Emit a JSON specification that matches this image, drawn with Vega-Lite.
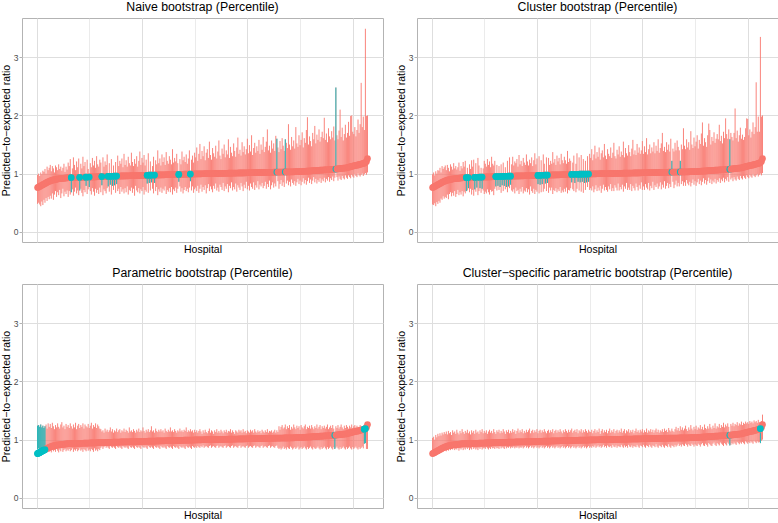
{
"$schema":"https://vega.github.io/schema/vega-lite/v6.json",
"padding":0,
"background":"white",
"columns":2,
"spacing":{"row":11,"column":11},
"datasets":{"d":[
{"h":1,"e":0.76,"a":0.48,"b":0.98,"c":0.47,"d":0.99,"f":0.84,"g":1.24,"i":0.74,"j":1.03,"tp":1},
{"h":2,"e":0.77,"a":0.50,"b":1.00,"c":0.46,"d":1.02,"f":0.85,"g":1.25,"i":0.75,"j":1.05,"tp":1},
{"h":3,"e":0.78,"a":0.47,"b":0.96,"c":0.49,"d":0.97,"f":0.84,"g":1.22,"i":0.76,"j":1.00,"tp":1},
{"h":4,"e":0.79,"a":0.44,"b":1.02,"c":0.44,"d":1.04,"f":0.85,"g":1.26,"i":0.77,"j":1.08,"tp":1},
{"h":5,"e":0.80,"a":0.52,"b":0.99,"c":0.51,"d":1.00,"f":0.84,"g":1.21,"i":0.78,"j":1.04,"tp":1},
{"h":6,"e":0.81,"a":0.46,"b":1.05,"c":0.48,"d":1.06,"f":0.85,"g":1.24,"i":0.78,"j":1.10,"tp":1},
{"h":7,"e":0.82,"a":0.55,"b":1.03,"c":0.53,"d":1.05,"f":0.84,"g":1.20,"i":0.79,"j":1.06,"tp":1},
{"h":8,"e":0.83,"a":0.50,"b":1.08,"c":0.50,"d":1.10,"f":0.85,"g":1.23,"i":0.79,"j":1.11,"tp":1},
{"h":9,"e":0.84,"a":0.58,"b":1.00,"c":0.57,"d":1.02,"f":0.82,"g":1.26,"i":0.80,"j":1.07},
{"h":10,"e":0.85,"a":0.53,"b":1.12,"c":0.55,"d":1.13,"f":0.80,"g":1.19,"i":0.80,"j":1.12},
{"h":11,"e":0.86,"a":0.60,"b":1.06,"c":0.61,"d":1.08,"f":0.83,"g":1.28,"i":0.81,"j":1.09},
{"h":12,"e":0.868,"a":0.56,"b":1.10,"c":0.57,"d":1.11,"f":0.79,"g":1.22,"i":0.81,"j":1.13},
{"h":13,"e":0.875,"a":0.62,"b":1.15,"c":0.60,"d":1.14,"f":0.81,"g":1.27,"i":0.82,"j":1.10},
{"h":14,"e":0.881,"a":0.57,"b":1.04,"c":0.58,"d":1.06,"f":0.78,"g":1.20,"i":0.80,"j":1.14},
{"h":15,"e":0.887,"a":0.66,"b":1.13,"c":0.64,"d":1.15,"f":0.83,"g":1.29,"i":0.83,"j":1.09},
{"h":16,"e":0.892,"a":0.55,"b":1.09,"c":0.56,"d":1.10,"f":0.80,"g":1.23,"i":0.81,"j":1.15},
{"h":17,"e":0.897,"a":0.64,"b":1.02,"c":0.65,"d":1.04,"f":0.82,"g":1.18,"i":0.84,"j":1.11},
{"h":18,"e":0.901,"a":0.70,"b":1.14,"c":0.68,"d":1.16,"f":0.79,"g":1.25,"i":0.82,"j":1.13},
{"h":19,"e":0.905,"a":0.60,"b":1.11,"c":0.61,"d":1.12,"f":0.84,"g":1.21,"i":0.85,"j":1.08},
{"h":20,"e":0.909,"a":0.68,"b":1.06,"c":0.67,"d":1.07,"f":0.81,"g":1.28,"i":0.83,"j":1.16},
{"h":21,"e":0.912,"a":0.63,"b":1.16,"c":0.62,"d":1.18,"f":0.78,"g":1.22,"i":0.86,"j":1.12},
{"h":22,"e":0.914,"a":0.72,"b":1.08,"c":0.70,"d":1.09,"f":0.83,"g":1.19,"i":0.82,"j":1.14},
{"h":23,"e":0.916,"a":0.58,"b":1.12,"c":0.60,"d":1.13,"f":0.80,"g":1.26,"i":0.84,"j":1.10},
{"h":24,"e":0.918,"a":0.66,"b":1.05,"c":0.65,"d":1.07,"f":0.85,"g":1.30,"i":0.83,"j":1.17},
{"h":25,"e":0.920,"a":0.74,"b":1.10,"c":0.72,"d":1.11,"f":0.79,"g":1.21,"i":0.86,"j":1.12},
{"h":26,"e":0.922,"a":0.61,"b":1.17,"c":0.63,"d":1.19,"f":0.82,"g":1.24,"i":0.81,"j":1.09},
{"h":27,"e":0.924,"a":0.69,"b":1.03,"c":0.68,"d":1.05,"f":0.84,"g":1.18,"i":0.85,"j":1.15},
{"h":28,"e":0.926,"a":0.65,"b":1.12,"c":0.64,"d":1.13,"f":0.80,"g":1.27,"i":0.83,"j":1.11},
{"h":29,"e":0.928,"a":0.71,"b":1.07,"c":0.70,"d":1.09,"f":0.83,"g":1.22,"i":0.86,"j":1.18},
{"h":30,"e":0.930,"a":0.60,"b":1.19,"c":0.61,"d":1.20,"f":0.81,"g":1.25,"i":0.82,"j":1.13},
{"h":31,"e":0.931,"a":0.70,"b":1.13,"c":0.69,"d":1.12,"f":0.84,"g":1.20,"i":0.85,"j":1.10},
{"h":32,"e":0.931,"a":0.64,"b":1.25,"c":0.66,"d":1.22,"f":0.80,"g":1.28,"i":0.83,"j":1.15},
{"h":33,"e":0.932,"a":0.68,"b":0.92,"c":0.70,"d":0.92,"f":0.82,"g":1.23,"i":0.86,"j":1.12,"tn":1,"tc":1},
{"h":34,"e":0.932,"a":0.73,"b":1.09,"c":0.71,"d":1.10,"f":0.85,"g":1.19,"i":0.84,"j":1.17},
{"h":35,"e":0.933,"a":0.62,"b":1.28,"c":0.75,"d":0.92,"f":0.79,"g":1.26,"i":0.86,"j":1.11,"tc":1},
{"h":36,"e":0.934,"a":0.69,"b":1.15,"c":0.68,"d":1.16,"f":0.83,"g":1.21,"i":0.82,"j":1.14},
{"h":37,"e":0.934,"a":0.76,"b":1.06,"c":0.74,"d":1.08,"f":0.81,"g":1.29,"i":0.85,"j":1.09},
{"h":38,"e":0.935,"a":0.66,"b":1.21,"c":0.64,"d":1.23,"f":0.84,"g":1.18,"i":0.83,"j":1.16},
{"h":39,"e":0.935,"a":0.71,"b":1.11,"c":0.72,"d":1.12,"f":0.80,"g":1.24,"i":0.87,"j":1.12},
{"h":40,"e":0.936,"a":0.63,"b":1.26,"c":0.62,"d":1.24,"f":0.82,"g":1.27,"i":0.84,"j":1.15},
{"h":41,"e":0.937,"a":0.71,"b":0.93,"c":0.73,"d":0.92,"f":0.85,"g":1.20,"i":0.86,"j":1.10,"tn":1,"tc":1},
{"h":42,"e":0.937,"a":0.74,"b":1.17,"c":0.69,"d":1.18,"f":0.81,"g":1.25,"i":0.83,"j":1.17},
{"h":43,"e":0.938,"a":0.67,"b":1.09,"c":0.76,"d":0.93,"f":0.83,"g":1.22,"i":0.85,"j":1.12,"tc":1},
{"h":44,"e":0.938,"a":0.61,"b":1.29,"c":0.63,"d":1.27,"f":0.79,"g":1.28,"i":0.82,"j":1.14},
{"h":45,"e":0.939,"a":0.72,"b":1.13,"c":0.70,"d":1.14,"f":0.84,"g":1.19,"i":0.86,"j":1.10},
{"h":46,"e":0.940,"a":0.68,"b":1.20,"c":0.75,"d":0.93,"f":0.82,"g":1.26,"i":0.84,"j":1.16,"tc":1},
{"h":47,"e":0.940,"a":0.79,"b":0.93,"c":0.67,"d":1.10,"f":0.80,"g":1.23,"i":0.87,"j":1.13,"tn":1},
{"h":48,"e":0.941,"a":0.65,"b":1.24,"c":0.74,"d":0.93,"f":0.85,"g":1.21,"i":0.83,"j":1.18,"tc":1},
{"h":49,"e":0.941,"a":0.73,"b":1.08,"c":0.71,"d":1.09,"f":0.81,"g":1.27,"i":0.85,"j":1.11},
{"h":50,"e":0.942,"a":0.77,"b":0.93,"c":0.65,"d":1.22,"f":0.83,"g":1.20,"i":0.86,"j":1.15,"tn":1},
{"h":51,"e":0.943,"a":0.70,"b":1.18,"c":0.69,"d":1.17,"f":0.80,"g":1.24,"i":0.84,"j":1.12},
{"h":52,"e":0.943,"a":0.64,"b":1.11,"c":0.66,"d":1.12,"f":0.84,"g":1.29,"i":0.87,"j":1.16},
{"h":53,"e":0.944,"a":0.75,"b":1.27,"c":0.73,"d":1.25,"f":0.82,"g":1.19,"i":0.85,"j":1.10},
{"h":54,"e":0.944,"a":0.69,"b":1.14,"c":0.68,"d":1.15,"f":0.79,"g":1.25,"i":0.83,"j":1.14},
{"h":55,"e":0.945,"a":0.62,"b":1.22,"c":0.64,"d":1.21,"f":0.85,"g":1.22,"i":0.86,"j":1.17},
{"h":56,"e":0.946,"a":0.74,"b":1.10,"c":0.72,"d":1.11,"f":0.81,"g":1.28,"i":0.84,"j":1.12},
{"h":57,"e":0.946,"a":0.67,"b":1.30,"c":0.69,"d":1.29,"f":0.83,"g":1.20,"i":0.87,"j":1.15},
{"h":58,"e":0.947,"a":0.72,"b":1.16,"c":0.70,"d":1.17,"f":0.80,"g":1.26,"i":0.85,"j":1.11},
{"h":59,"e":0.947,"a":0.65,"b":1.12,"c":0.63,"d":1.14,"f":0.84,"g":1.23,"i":0.86,"j":1.18},
{"h":60,"e":0.948,"a":0.76,"b":1.24,"c":0.74,"d":1.22,"f":0.82,"g":1.19,"i":0.84,"j":1.13},
{"h":61,"e":0.949,"a":0.68,"b":1.19,"c":0.78,"d":0.94,"f":0.86,"g":1.18,"i":0.87,"j":1.10,"tc":1},
{"h":62,"e":0.949,"a":0.80,"b":0.94,"c":0.71,"d":1.15,"f":0.88,"g":1.14,"i":0.85,"j":1.16,"tn":1},
{"h":63,"e":0.950,"a":0.63,"b":1.28,"c":0.79,"d":0.94,"f":0.84,"g":1.16,"i":0.86,"j":1.13,"tc":1},
{"h":64,"e":0.950,"a":0.73,"b":1.12,"c":0.72,"d":1.13,"f":0.87,"g":1.12,"i":0.84,"j":1.17},
{"h":65,"e":0.951,"a":0.70,"b":1.21,"c":0.77,"d":0.94,"f":0.89,"g":1.19,"i":0.88,"j":1.11,"tc":1},
{"h":66,"e":0.952,"a":0.66,"b":1.15,"c":0.67,"d":1.16,"f":0.86,"g":1.14,"i":0.85,"j":1.15},
{"h":67,"e":0.952,"a":0.75,"b":1.33,"c":0.80,"d":0.94,"f":0.88,"g":1.17,"i":0.87,"j":1.12,"tc":1},
{"h":68,"e":0.953,"a":0.78,"b":0.94,"c":0.70,"d":1.19,"f":0.86,"g":1.13,"i":0.86,"j":1.18,"tn":1},
{"h":69,"e":0.953,"a":0.69,"b":1.18,"c":0.79,"d":0.94,"f":0.84,"g":1.16,"i":0.84,"j":1.14,"tc":1},
{"h":70,"e":0.954,"a":0.81,"b":0.94,"c":0.73,"d":1.11,"f":0.89,"g":1.21,"i":0.88,"j":1.10,"tn":1},
{"h":71,"e":0.955,"a":0.64,"b":1.25,"c":0.77,"d":0.94,"f":0.87,"g":1.14,"i":0.85,"j":1.16,"tc":1},
{"h":72,"e":0.955,"a":0.79,"b":0.94,"c":0.68,"d":1.22,"f":0.86,"g":1.18,"i":0.87,"j":1.13,"tn":1},
{"h":73,"e":0.956,"a":0.72,"b":1.14,"c":0.78,"d":0.95,"f":0.88,"g":1.12,"i":0.86,"j":1.17,"tc":1},
{"h":74,"e":0.956,"a":0.80,"b":0.94,"c":0.75,"d":1.28,"f":0.86,"g":1.16,"i":0.88,"j":1.11,"tn":1},
{"h":75,"e":0.957,"a":0.67,"b":1.20,"c":0.81,"d":0.95,"f":0.84,"g":1.14,"i":0.85,"j":1.15,"tc":1},
{"h":76,"e":0.958,"a":0.82,"b":0.95,"c":0.71,"d":1.16,"f":0.89,"g":1.19,"i":0.87,"j":1.12,"tn":1},
{"h":77,"e":0.958,"a":0.70,"b":1.31,"c":0.69,"d":1.29,"f":0.87,"g":1.13,"i":0.86,"j":1.18},
{"h":78,"e":0.959,"a":0.74,"b":1.13,"c":0.73,"d":1.14,"f":0.86,"g":1.16,"i":0.88,"j":1.13},
{"h":79,"e":0.959,"a":0.65,"b":1.22,"c":0.66,"d":1.21,"f":0.88,"g":1.18,"i":0.85,"j":1.16},
{"h":80,"e":0.960,"a":0.77,"b":1.17,"c":0.76,"d":1.18,"f":0.86,"g":1.12,"i":0.87,"j":1.10},
{"h":81,"e":0.960,"a":0.69,"b":1.26,"c":0.70,"d":1.25,"f":0.84,"g":1.16,"i":0.86,"j":1.15},
{"h":82,"e":0.961,"a":0.73,"b":1.11,"c":0.72,"d":1.12,"f":0.89,"g":1.14,"i":0.88,"j":1.19},
{"h":83,"e":0.961,"a":0.66,"b":1.34,"c":0.65,"d":1.32,"f":0.87,"g":1.19,"i":0.85,"j":1.12},
{"h":84,"e":0.962,"a":0.75,"b":1.15,"c":0.74,"d":1.16,"f":0.86,"g":1.13,"i":0.87,"j":1.16},
{"h":85,"e":0.962,"a":0.68,"b":1.23,"c":0.69,"d":1.22,"f":0.88,"g":1.17,"i":0.86,"j":1.13},
{"h":86,"e":0.963,"a":0.78,"b":1.12,"c":0.77,"d":1.13,"f":0.86,"g":1.15,"i":0.88,"j":1.18},
{"h":87,"e":0.963,"a":0.64,"b":1.29,"c":0.66,"d":1.27,"f":0.84,"g":1.12,"i":0.85,"j":1.11},
{"h":88,"e":0.964,"a":0.72,"b":1.18,"c":0.71,"d":1.19,"f":0.89,"g":1.21,"i":0.87,"j":1.15},
{"h":89,"e":0.964,"a":0.70,"b":1.14,"c":0.69,"d":1.15,"f":0.87,"g":1.14,"i":0.89,"j":1.12},
{"h":90,"e":0.965,"a":0.76,"b":1.36,"c":0.75,"d":1.33,"f":0.86,"g":1.16,"i":0.86,"j":1.17},
{"h":91,"e":0.965,"a":0.67,"b":1.20,"c":0.68,"d":1.21,"f":0.88,"g":1.13,"i":0.88,"j":1.13},
{"h":92,"e":0.966,"a":0.74,"b":1.13,"c":0.73,"d":1.14,"f":0.86,"g":1.18,"i":0.85,"j":1.16},
{"h":93,"e":0.966,"a":0.62,"b":1.25,"c":0.64,"d":1.24,"f":0.84,"g":1.15,"i":0.87,"j":1.19},
{"h":94,"e":0.967,"a":0.79,"b":1.17,"c":0.78,"d":1.18,"f":0.89,"g":1.12,"i":0.89,"j":1.11},
{"h":95,"e":0.967,"a":0.71,"b":1.30,"c":0.70,"d":1.28,"f":0.87,"g":1.17,"i":0.86,"j":1.15},
{"h":96,"e":0.968,"a":0.68,"b":1.12,"c":0.67,"d":1.13,"f":0.86,"g":1.14,"i":0.88,"j":1.17},
{"h":97,"e":0.968,"a":0.75,"b":1.22,"c":0.74,"d":1.23,"f":0.88,"g":1.19,"i":0.85,"j":1.12},
{"h":98,"e":0.969,"a":0.66,"b":1.38,"c":0.65,"d":1.35,"f":0.86,"g":1.13,"i":0.87,"j":1.16},
{"h":99,"e":0.969,"a":0.73,"b":1.15,"c":0.72,"d":1.16,"f":0.84,"g":1.16,"i":0.89,"j":1.13},
{"h":100,"e":0.970,"a":0.70,"b":1.27,"c":0.69,"d":1.26,"f":0.89,"g":1.14,"i":0.86,"j":1.18},
{"h":101,"e":0.970,"a":0.77,"b":1.19,"c":0.82,"d":0.96,"f":0.87,"g":1.21,"i":0.88,"j":1.11,"tc":1},
{"h":102,"e":0.971,"a":0.64,"b":1.32,"c":0.66,"d":1.30,"f":0.86,"g":1.15,"i":0.85,"j":1.15},
{"h":103,"e":0.971,"a":0.72,"b":1.14,"c":0.81,"d":0.96,"f":0.88,"g":1.12,"i":0.87,"j":1.17,"tc":1},
{"h":104,"e":0.972,"a":0.69,"b":1.24,"c":0.68,"d":1.23,"f":0.86,"g":1.17,"i":0.89,"j":1.12},
{"h":105,"e":0.972,"a":0.83,"b":0.96,"c":0.82,"d":0.96,"f":0.84,"g":1.14,"i":0.86,"j":1.16,"tn":1,"tc":1},
{"h":106,"e":0.973,"a":0.67,"b":1.35,"c":0.69,"d":1.33,"f":0.89,"g":1.18,"i":0.88,"j":1.13},
{"h":107,"e":0.973,"a":0.84,"b":0.96,"c":0.74,"d":1.17,"f":0.87,"g":1.13,"i":0.85,"j":1.18,"tn":1},
{"h":108,"e":0.974,"a":0.71,"b":1.21,"c":0.83,"d":0.96,"f":0.86,"g":1.16,"i":0.87,"j":1.14,"tc":1},
{"h":109,"e":0.974,"a":0.85,"b":0.96,"c":0.70,"d":1.28,"f":0.88,"g":1.23,"i":0.89,"j":1.11,"tn":1},
{"h":110,"e":0.975,"a":0.74,"b":1.13,"c":0.84,"d":0.96,"f":0.86,"g":1.14,"i":0.86,"j":1.15,"tc":1},
{"h":111,"e":0.975,"a":0.66,"b":1.29,"c":0.67,"d":1.27,"f":0.84,"g":1.16,"i":0.88,"j":1.17},
{"h":112,"e":0.976,"a":0.84,"b":0.96,"c":0.76,"d":1.15,"f":0.89,"g":1.12,"i":0.85,"j":1.12,"tn":1},
{"h":113,"e":0.976,"a":0.70,"b":1.23,"c":0.71,"d":1.22,"f":0.87,"g":1.19,"i":0.87,"j":1.16},
{"h":114,"e":0.977,"a":0.77,"b":1.16,"c":0.76,"d":1.17,"f":0.86,"g":1.15,"i":0.89,"j":1.13},
{"h":115,"e":0.977,"a":0.63,"b":1.40,"c":0.65,"d":1.37,"f":0.88,"g":1.13,"i":0.86,"j":1.18},
{"h":116,"e":0.978,"a":0.73,"b":1.18,"c":0.72,"d":1.19,"f":0.86,"g":1.17,"i":0.88,"j":1.11},
{"h":117,"e":0.978,"a":0.69,"b":1.26,"c":0.70,"d":1.25,"f":0.84,"g":1.14,"i":0.85,"j":1.15},
{"h":118,"e":0.979,"a":0.76,"b":1.14,"c":0.75,"d":1.15,"f":0.89,"g":1.18,"i":0.87,"j":1.17},
{"h":119,"e":0.979,"a":0.67,"b":1.33,"c":0.68,"d":1.31,"f":0.87,"g":1.14,"i":0.89,"j":1.12},
{"h":120,"e":0.980,"a":0.74,"b":1.20,"c":0.73,"d":1.21,"f":0.86,"g":1.16,"i":0.86,"j":1.16},
{"h":121,"e":0.980,"a":0.71,"b":1.28,"c":0.70,"d":1.27,"f":0.88,"g":1.12,"i":0.88,"j":1.13},
{"h":122,"e":0.981,"a":0.78,"b":1.15,"c":0.77,"d":1.16,"f":0.86,"g":1.19,"i":0.85,"j":1.18},
{"h":123,"e":0.981,"a":0.65,"b":1.37,"c":0.67,"d":1.34,"f":0.84,"g":1.15,"i":0.87,"j":1.14},
{"h":124,"e":0.982,"a":0.72,"b":1.22,"c":0.71,"d":1.23,"f":0.89,"g":1.13,"i":0.89,"j":1.11},
{"h":125,"e":0.982,"a":0.69,"b":1.17,"c":0.68,"d":1.18,"f":0.87,"g":1.17,"i":0.86,"j":1.16},
{"h":126,"e":0.983,"a":0.75,"b":1.30,"c":0.74,"d":1.29,"f":0.86,"g":1.14,"i":0.88,"j":1.13},
{"h":127,"e":0.983,"a":0.68,"b":1.24,"c":0.69,"d":1.23,"f":0.88,"g":1.21,"i":0.85,"j":1.18},
{"h":128,"e":0.984,"a":0.77,"b":1.16,"c":0.76,"d":1.17,"f":0.86,"g":1.14,"i":0.87,"j":1.15},
{"h":129,"e":0.984,"a":0.64,"b":1.42,"c":0.66,"d":1.39,"f":0.84,"g":1.16,"i":0.89,"j":1.12},
{"h":130,"e":0.985,"a":0.73,"b":1.19,"c":0.72,"d":1.20,"f":0.89,"g":1.13,"i":0.86,"j":1.17},
{"h":131,"e":0.985,"a":0.70,"b":1.27,"c":0.71,"d":1.26,"f":0.87,"g":1.18,"i":0.88,"j":1.13},
{"h":132,"e":0.986,"a":0.76,"b":1.21,"c":0.75,"d":1.22,"f":0.86,"g":1.15,"i":0.85,"j":1.16},
{"h":133,"e":0.986,"a":0.67,"b":1.34,"c":0.85,"d":0.97,"f":0.88,"g":1.12,"i":0.87,"j":1.19,"tc":1},
{"h":134,"e":0.987,"a":0.74,"b":1.18,"c":0.73,"d":1.19,"f":0.86,"g":1.16,"i":0.89,"j":1.12},
{"h":135,"e":0.987,"a":0.86,"b":0.97,"c":0.70,"d":1.31,"f":0.84,"g":1.14,"i":0.86,"j":1.15,"tn":1},
{"h":136,"e":0.988,"a":0.78,"b":1.25,"c":0.84,"d":0.97,"f":0.89,"g":1.19,"i":0.88,"j":1.17,"tc":1},
{"h":137,"e":0.988,"a":0.69,"b":1.16,"c":0.68,"d":1.17,"f":0.87,"g":1.14,"i":0.85,"j":1.13},
{"h":138,"e":0.989,"a":0.75,"b":1.38,"c":0.74,"d":1.35,"f":0.86,"g":1.16,"i":0.87,"j":1.18},
{"h":139,"e":0.989,"a":0.66,"b":1.23,"c":0.86,"d":0.97,"f":0.88,"g":1.13,"i":0.89,"j":1.11,"tc":1},
{"h":140,"e":0.990,"a":0.72,"b":1.29,"c":0.71,"d":1.28,"f":0.86,"g":1.17,"i":0.86,"j":1.16},
{"h":141,"e":0.990,"a":0.77,"b":1.20,"c":0.85,"d":0.97,"f":0.84,"g":1.15,"i":0.88,"j":1.14,"tc":1},
{"h":142,"e":0.991,"a":0.70,"b":1.33,"c":0.69,"d":1.32,"f":0.89,"g":1.21,"i":0.85,"j":1.18},
{"h":143,"e":0.991,"a":0.74,"b":1.17,"c":0.86,"d":0.98,"f":0.87,"g":1.13,"i":0.87,"j":1.12,"tc":1},
{"h":144,"e":0.992,"a":0.68,"b":1.26,"c":0.67,"d":1.25,"f":0.86,"g":1.16,"i":0.89,"j":1.16},
{"h":145,"e":0.992,"a":0.76,"b":1.40,"c":0.84,"d":0.98,"f":0.88,"g":1.14,"i":0.86,"j":1.13,"tc":1},
{"h":146,"e":0.993,"a":0.87,"b":0.98,"c":0.72,"d":1.22,"f":0.86,"g":1.18,"i":0.88,"j":1.18,"tn":1},
{"h":147,"e":0.993,"a":0.71,"b":1.24,"c":0.85,"d":0.98,"f":0.84,"g":1.14,"i":0.85,"j":1.15,"tc":1},
{"h":148,"e":0.994,"a":0.78,"b":1.31,"c":0.77,"d":1.30,"f":0.89,"g":1.16,"i":0.87,"j":1.12},
{"h":149,"e":0.994,"a":0.67,"b":1.19,"c":0.86,"d":0.98,"f":0.87,"g":1.12,"i":0.89,"j":1.17,"tc":1},
{"h":150,"e":0.995,"a":0.73,"b":1.36,"c":0.72,"d":1.34,"f":0.86,"g":1.17,"i":0.86,"j":1.14},
{"h":151,"e":0.995,"a":0.76,"b":1.28,"c":0.75,"d":1.27,"f":0.88,"g":1.13,"i":0.88,"j":1.13},
{"h":152,"e":0.996,"a":0.70,"b":1.45,"c":0.71,"d":1.42,"f":0.86,"g":1.16,"i":0.86,"j":1.17},
{"h":153,"e":0.996,"a":0.79,"b":1.22,"c":0.78,"d":1.23,"f":0.89,"g":1.12,"i":0.89,"j":1.11},
{"h":154,"e":0.996,"a":0.67,"b":1.34,"c":0.68,"d":1.33,"f":0.87,"g":1.15,"i":0.87,"j":1.15},
{"h":155,"e":0.997,"a":0.74,"b":1.51,"c":0.73,"d":1.48,"f":0.86,"g":1.18,"i":0.90,"j":1.18},
{"h":156,"e":0.997,"a":0.81,"b":1.25,"c":0.80,"d":1.26,"f":0.89,"g":1.14,"i":0.86,"j":1.12},
{"h":157,"e":0.998,"a":0.69,"b":1.39,"c":0.70,"d":1.37,"f":0.87,"g":1.10,"i":0.88,"j":1.16},
{"h":158,"e":0.998,"a":0.77,"b":1.30,"c":0.76,"d":1.29,"f":0.90,"g":1.16,"i":0.90,"j":1.13},
{"h":159,"e":0.998,"a":0.72,"b":1.47,"c":0.71,"d":1.45,"f":0.86,"g":1.12,"i":0.87,"j":1.19},
{"h":160,"e":0.999,"a":0.80,"b":1.23,"c":0.79,"d":1.24,"f":0.88,"g":1.17,"i":0.89,"j":1.10},
{"h":161,"e":0.999,"a":0.66,"b":1.36,"c":0.67,"d":1.35,"f":0.89,"g":1.13,"i":0.86,"j":1.15},
{"h":162,"e":1.000,"a":0.75,"b":1.42,"c":0.74,"d":1.40,"f":0.87,"g":1.11,"i":0.88,"j":1.18},
{"h":163,"e":1.000,"a":0.82,"b":1.27,"c":0.81,"d":1.28,"f":0.86,"g":1.15,"i":0.91,"j":1.12},
{"h":164,"e":1.000,"a":0.70,"b":1.55,"c":0.71,"d":1.51,"f":0.89,"g":1.19,"i":0.87,"j":1.16},
{"h":165,"e":1.001,"a":0.78,"b":1.32,"c":0.77,"d":1.31,"f":0.90,"g":1.12,"i":0.89,"j":1.13},
{"h":166,"e":1.001,"a":0.73,"b":1.24,"c":0.72,"d":1.25,"f":0.86,"g":1.16,"i":0.86,"j":1.17},
{"h":167,"e":1.002,"a":0.68,"b":1.44,"c":0.69,"d":1.42,"f":0.88,"g":1.14,"i":0.90,"j":1.11},
{"h":168,"e":1.002,"a":0.79,"b":1.35,"c":0.78,"d":1.34,"f":0.89,"g":1.10,"i":0.88,"j":1.15},
{"h":169,"e":1.002,"a":0.74,"b":1.29,"c":0.73,"d":1.30,"f":0.87,"g":1.16,"i":0.87,"j":1.19},
{"h":170,"e":1.003,"a":0.83,"b":1.48,"c":0.82,"d":1.45,"f":0.86,"g":1.13,"i":0.89,"j":1.12},
{"h":171,"e":1.003,"a":0.71,"b":1.26,"c":0.70,"d":1.27,"f":0.89,"g":1.18,"i":0.86,"j":1.16},
{"h":172,"e":1.004,"a":0.76,"b":1.38,"c":0.75,"d":1.36,"f":0.90,"g":1.12,"i":0.91,"j":1.13},
{"h":173,"e":1.004,"a":0.69,"b":1.57,"c":0.70,"d":1.53,"f":0.86,"g":1.15,"i":0.88,"j":1.18},
{"h":174,"e":1.004,"a":0.81,"b":1.31,"c":0.80,"d":1.30,"f":0.88,"g":1.12,"i":0.87,"j":1.11},
{"h":175,"e":1.005,"a":0.77,"b":1.25,"c":0.76,"d":1.26,"f":0.89,"g":1.17,"i":0.90,"j":1.15},
{"h":176,"e":1.005,"a":0.72,"b":1.43,"c":0.71,"d":1.41,"f":0.87,"g":1.14,"i":0.86,"j":1.17},
{"h":177,"e":1.006,"a":0.84,"b":1.34,"c":0.83,"d":1.33,"f":0.86,"g":1.11,"i":0.89,"j":1.12},
{"h":178,"e":1.006,"a":0.70,"b":1.50,"c":0.71,"d":1.47,"f":0.89,"g":1.16,"i":0.88,"j":1.16},
{"h":179,"e":1.006,"a":0.78,"b":1.28,"c":0.77,"d":1.29,"f":0.90,"g":1.13,"i":0.87,"j":1.13},
{"h":180,"e":1.007,"a":0.74,"b":1.40,"c":0.73,"d":1.38,"f":0.86,"g":1.17,"i":0.91,"j":1.19},
{"h":181,"e":1.007,"a":0.82,"b":1.33,"c":0.81,"d":1.32,"f":0.88,"g":1.12,"i":0.88,"j":1.12},
{"h":182,"e":1.008,"a":0.68,"b":1.59,"c":0.69,"d":1.55,"f":0.89,"g":1.15,"i":0.86,"j":1.15},
{"h":183,"e":1.008,"a":0.79,"b":1.27,"c":0.78,"d":1.28,"f":0.87,"g":1.14,"i":0.90,"j":1.18},
{"h":184,"e":1.008,"a":0.75,"b":1.46,"c":0.74,"d":1.44,"f":0.86,"g":1.18,"i":0.87,"j":1.11},
{"h":185,"e":1.009,"a":0.85,"b":1.36,"c":0.84,"d":1.35,"f":0.89,"g":1.12,"i":0.89,"j":1.16},
{"h":186,"e":1.009,"a":0.71,"b":1.30,"c":0.72,"d":1.31,"f":0.90,"g":1.16,"i":0.86,"j":1.14},
{"h":187,"e":1.010,"a":0.77,"b":1.52,"c":0.76,"d":1.49,"f":0.86,"g":1.13,"i":0.91,"j":1.18},
{"h":188,"e":1.010,"a":0.73,"b":1.39,"c":0.72,"d":1.37,"f":0.88,"g":1.10,"i":0.88,"j":1.12},
{"h":189,"e":1.010,"a":0.83,"b":1.29,"c":0.82,"d":1.30,"f":0.89,"g":1.16,"i":0.87,"j":1.16},
{"h":190,"e":1.011,"a":0.69,"b":1.45,"c":0.70,"d":1.43,"f":0.87,"g":1.14,"i":0.90,"j":1.13},
{"h":191,"e":1.011,"a":0.80,"b":1.62,"c":0.79,"d":1.58,"f":0.86,"g":1.12,"i":0.86,"j":1.17},
{"h":192,"e":1.012,"a":0.76,"b":1.34,"c":0.75,"d":1.33,"f":0.89,"g":1.17,"i":0.89,"j":1.11},
{"h":193,"e":1.012,"a":0.72,"b":1.41,"c":0.71,"d":1.40,"f":0.90,"g":1.14,"i":0.88,"j":1.15},
{"h":194,"e":1.012,"a":0.84,"b":1.31,"c":0.83,"d":1.32,"f":0.86,"g":1.16,"i":0.87,"j":1.19},
{"h":195,"e":1.013,"a":0.78,"b":1.54,"c":0.77,"d":1.51,"f":0.88,"g":1.12,"i":0.91,"j":1.13},
{"h":196,"e":1.013,"a":0.70,"b":1.37,"c":0.71,"d":1.36,"f":0.89,"g":1.18,"i":0.88,"j":1.16},
{"h":197,"e":1.014,"a":0.81,"b":1.47,"c":0.80,"d":1.45,"f":0.87,"g":1.13,"i":0.86,"j":1.12},
{"h":198,"e":1.014,"a":0.75,"b":1.33,"c":0.74,"d":1.34,"f":0.86,"g":1.15,"i":0.90,"j":1.17},
{"h":199,"e":1.014,"a":0.86,"b":1.42,"c":0.85,"d":1.40,"f":0.89,"g":1.11,"i":0.89,"j":1.14},
{"h":200,"e":1.015,"a":0.73,"b":1.60,"c":0.72,"d":1.56,"f":0.90,"g":1.16,"i":0.87,"j":1.18},
{"h":201,"e":1.015,"a":0.79,"b":1.35,"c":0.78,"d":1.34,"f":0.86,"g":1.14,"i":0.91,"j":1.12},
{"h":202,"e":1.016,"a":0.71,"b":1.49,"c":0.72,"d":1.47,"f":0.88,"g":1.12,"i":0.88,"j":1.16},
{"h":203,"e":1.016,"a":0.83,"b":1.38,"c":0.82,"d":1.37,"f":0.89,"g":1.17,"i":0.86,"j":1.13},
{"h":204,"e":1.016,"a":0.77,"b":1.66,"c":0.76,"d":1.61,"f":0.87,"g":1.14,"i":0.90,"j":1.19},
{"h":205,"e":1.017,"a":0.74,"b":1.32,"c":0.73,"d":1.33,"f":0.86,"g":1.16,"i":0.89,"j":1.12},
{"h":206,"e":1.017,"a":0.85,"b":1.44,"c":0.84,"d":1.42,"f":0.89,"g":1.12,"i":0.87,"j":1.16},
{"h":207,"e":1.018,"a":0.72,"b":1.53,"c":0.71,"d":1.50,"f":0.90,"g":1.18,"i":0.91,"j":1.14},
{"h":208,"e":1.018,"a":0.80,"b":1.36,"c":0.79,"d":1.35,"f":0.86,"g":1.14,"i":0.88,"j":1.18},
{"h":209,"e":1.018,"a":0.76,"b":1.47,"c":0.75,"d":1.45,"f":0.88,"g":1.12,"i":0.86,"j":1.13},
{"h":210,"e":1.019,"a":0.87,"b":1.39,"c":0.86,"d":1.38,"f":0.89,"g":1.16,"i":0.90,"j":1.17},
{"h":211,"e":1.019,"a":0.73,"b":1.58,"c":0.72,"d":1.54,"f":0.87,"g":1.13,"i":0.89,"j":1.12},
{"h":212,"e":1.020,"a":0.81,"b":1.34,"c":0.80,"d":1.35,"f":0.86,"g":1.15,"i":0.87,"j":1.16},
{"h":213,"e":1.020,"a":0.78,"b":1.50,"c":0.77,"d":1.48,"f":0.89,"g":1.11,"i":0.92,"j":1.19},
{"h":214,"e":1.020,"a":0.84,"b":1.41,"c":0.83,"d":1.39,"f":0.90,"g":1.17,"i":0.88,"j":1.13},
{"h":215,"e":1.021,"a":0.75,"b":1.63,"c":0.74,"d":1.59,"f":0.86,"g":1.14,"i":0.86,"j":1.17},
{"h":216,"e":1.021,"a":0.79,"b":1.37,"c":0.78,"d":1.36,"f":0.88,"g":1.12,"i":0.90,"j":1.12},
{"h":217,"e":1.022,"a":0.86,"b":1.46,"c":0.85,"d":1.44,"f":0.89,"g":1.16,"i":0.89,"j":1.16},
{"h":218,"e":1.022,"a":0.74,"b":1.55,"c":0.73,"d":1.52,"f":0.87,"g":1.13,"i":0.87,"j":1.14},
{"h":219,"e":1.022,"a":0.82,"b":1.76,"c":0.81,"d":1.70,"f":0.86,"g":1.18,"i":0.91,"j":1.18},
{"h":220,"e":1.023,"a":0.77,"b":1.40,"c":0.76,"d":1.39,"f":0.89,"g":1.12,"i":0.88,"j":1.13},
{"h":221,"e":1.023,"a":0.88,"b":1.48,"c":0.87,"d":1.46,"f":0.90,"g":1.15,"i":0.86,"j":1.19},
{"h":222,"e":1.024,"a":0.73,"b":1.36,"c":0.74,"d":1.37,"f":0.86,"g":1.14,"i":0.90,"j":1.15},
{"h":223,"e":1.024,"a":0.80,"b":1.57,"c":0.79,"d":1.54,"f":0.88,"g":1.16,"i":0.89,"j":1.17},
{"h":224,"e":1.024,"a":0.85,"b":1.43,"c":0.84,"d":1.41,"f":0.89,"g":1.12,"i":0.87,"j":1.13},
{"h":225,"e":1.025,"a":0.76,"b":1.52,"c":0.75,"d":1.50,"f":0.87,"g":1.14,"i":0.92,"j":1.20},
{"h":226,"e":1.025,"a":0.83,"b":1.39,"c":0.82,"d":1.38,"f":0.86,"g":1.17,"i":0.88,"j":1.16},
{"h":227,"e":1.026,"a":0.78,"b":1.65,"c":0.77,"d":1.60,"f":0.89,"g":1.12,"i":0.86,"j":1.14},
{"h":228,"e":1.026,"a":1.06,"b":1.60,"c":1.05,"d":1.22,"f":0.90,"g":1.16,"i":0.90,"j":1.19,"tn":1,"tc":1},
{"h":229,"e":1.026,"a":0.87,"b":1.45,"c":0.86,"d":1.43,"f":0.86,"g":1.13,"i":0.89,"j":1.15},
{"h":230,"e":1.027,"a":0.74,"b":1.37,"c":0.75,"d":1.38,"f":0.84,"g":1.23,"i":0.87,"j":1.13},
{"h":231,"e":1.027,"a":0.82,"b":1.56,"c":0.81,"d":1.53,"f":0.86,"g":1.17,"i":0.91,"j":1.18},
{"h":232,"e":1.028,"a":0.89,"b":1.42,"c":0.88,"d":1.40,"f":0.83,"g":1.22,"i":0.88,"j":1.22},
{"h":233,"e":1.028,"a":0.79,"b":1.61,"c":0.78,"d":1.57,"f":0.85,"g":1.25,"i":0.90,"j":1.16},
{"h":234,"e":1.028,"a":0.85,"b":1.48,"c":0.84,"d":1.46,"f":0.88,"g":1.19,"i":0.93,"j":1.20},
{"h":235,"e":1.029,"a":0.77,"b":1.39,"c":0.78,"d":1.40,"f":0.84,"g":1.21,"i":0.89,"j":1.15},
{"h":236,"e":1.029,"a":1.06,"b":1.59,"c":1.05,"d":1.22,"f":0.86,"g":1.26,"i":0.91,"j":1.23,"tn":1,"tc":1},
{"h":237,"e":1.030,"a":0.83,"b":1.53,"c":0.82,"d":1.50,"f":0.83,"g":1.18,"i":0.88,"j":1.17},
{"h":238,"e":1.030,"a":0.88,"b":1.44,"c":0.87,"d":1.42,"f":0.87,"g":1.23,"i":0.92,"j":1.21},
{"h":239,"e":1.030,"a":0.80,"b":1.85,"c":0.79,"d":1.78,"f":0.85,"g":1.20,"i":0.90,"j":1.16},
{"h":240,"e":1.031,"a":0.86,"b":1.50,"c":0.85,"d":1.48,"f":0.84,"g":1.25,"i":0.89,"j":1.19},
{"h":241,"e":1.031,"a":0.78,"b":1.41,"c":0.79,"d":1.42,"f":0.88,"g":1.17,"i":0.93,"j":1.24},
{"h":242,"e":1.032,"a":0.90,"b":1.63,"c":0.89,"d":1.59,"f":0.86,"g":1.22,"i":0.91,"j":1.18},
{"h":243,"e":1.032,"a":0.84,"b":1.47,"c":0.83,"d":1.45,"f":0.83,"g":1.19,"i":0.88,"j":1.15},
{"h":244,"e":1.032,"a":0.81,"b":1.57,"c":0.80,"d":1.54,"f":0.85,"g":1.26,"i":0.92,"j":1.21},
{"h":245,"e":1.033,"a":0.87,"b":1.43,"c":0.86,"d":1.41,"f":0.87,"g":1.21,"i":0.90,"j":1.17},
{"h":246,"e":1.033,"a":0.79,"b":1.80,"c":0.78,"d":1.73,"f":0.84,"g":1.18,"i":0.89,"j":1.25},
{"h":247,"e":1.034,"a":0.85,"b":1.52,"c":0.84,"d":1.50,"f":0.86,"g":1.24,"i":0.93,"j":1.19},
{"h":248,"e":1.034,"a":0.91,"b":1.46,"c":0.90,"d":1.44,"f":0.88,"g":1.20,"i":0.91,"j":1.16},
{"h":249,"e":1.034,"a":0.82,"b":1.66,"c":0.81,"d":1.62,"f":0.83,"g":1.23,"i":0.88,"j":1.22},
{"h":250,"e":1.035,"a":0.88,"b":1.49,"c":0.87,"d":1.47,"f":0.85,"g":1.17,"i":0.92,"j":1.18},
{"h":251,"e":1.036,"a":0.80,"b":1.58,"c":0.79,"d":1.55,"f":0.87,"g":1.25,"i":0.90,"j":1.24},
{"h":252,"e":1.037,"a":0.86,"b":1.71,"c":0.85,"d":1.66,"f":0.84,"g":1.21,"i":0.89,"j":1.17},
{"h":253,"e":1.039,"a":0.92,"b":1.45,"c":0.91,"d":1.43,"f":0.86,"g":1.19,"i":0.93,"j":1.21},
{"h":254,"e":1.040,"a":0.83,"b":1.61,"c":0.82,"d":1.58,"f":0.88,"g":1.23,"i":0.91,"j":1.19},
{"h":255,"e":1.041,"a":0.89,"b":1.53,"c":0.88,"d":1.51,"f":0.85,"g":1.26,"i":0.88,"j":1.25},
{"h":256,"e":1.042,"a":0.81,"b":1.75,"c":0.80,"d":1.69,"f":0.83,"g":1.18,"i":0.92,"j":1.18},
{"h":257,"e":1.044,"a":0.87,"b":1.97,"c":0.86,"d":1.88,"f":0.87,"g":1.22,"i":0.94,"j":1.22},
{"h":258,"e":1.045,"a":0.93,"b":1.50,"c":0.92,"d":1.48,"f":0.84,"g":1.20,"i":0.90,"j":1.17},
{"h":259,"e":1.046,"a":0.84,"b":1.64,"c":0.83,"d":1.61,"f":0.86,"g":1.24,"i":0.89,"j":1.26},
{"h":260,"e":1.047,"a":0.90,"b":1.56,"c":0.89,"d":1.54,"f":0.88,"g":1.19,"i":0.93,"j":1.20},
{"h":261,"e":1.049,"a":0.82,"b":1.47,"c":0.81,"d":1.46,"f":0.85,"g":1.25,"i":0.91,"j":1.18},
{"h":262,"e":1.050,"a":0.88,"b":1.70,"c":0.87,"d":1.66,"f":0.83,"g":1.21,"i":0.88,"j":1.23},
{"h":263,"e":1.051,"a":0.94,"b":1.59,"c":0.93,"d":1.86,"f":0.87,"g":1.18,"i":0.94,"j":1.19},
{"h":264,"e":1.052,"a":0.85,"b":1.82,"c":0.84,"d":1.75,"f":0.85,"g":1.23,"i":0.92,"j":1.27},
{"h":265,"e":1.054,"a":0.91,"b":1.52,"c":0.90,"d":1.50,"f":0.84,"g":1.20,"i":0.90,"j":1.21},
{"h":266,"e":1.055,"a":0.83,"b":1.67,"c":0.82,"d":1.63,"f":0.86,"g":1.26,"i":0.89,"j":1.18},
{"h":267,"e":1.056,"a":0.89,"b":1.58,"c":0.88,"d":1.56,"f":0.88,"g":1.19,"i":0.93,"j":1.24},
{"h":268,"e":1.057,"a":0.86,"b":1.76,"c":0.85,"d":1.71,"f":0.85,"g":1.22,"i":0.95,"j":1.20},
{"h":269,"e":1.059,"a":0.92,"b":1.55,"c":0.91,"d":1.53,"f":0.83,"g":1.25,"i":0.91,"j":1.28},
{"h":270,"e":1.060,"a":0.84,"b":1.63,"c":0.83,"d":1.60,"f":0.87,"g":1.18,"i":0.89,"j":1.19},
{"h":271,"e":1.061,"a":0.90,"b":1.72,"c":0.89,"d":1.68,"f":0.84,"g":1.23,"i":0.94,"j":1.23},
{"h":272,"e":1.062,"a":0.87,"b":1.61,"c":0.86,"d":1.59,"f":0.86,"g":1.20,"i":0.92,"j":1.21},
{"h":273,"e":1.064,"a":0.93,"b":1.96,"c":0.92,"d":1.84,"f":0.88,"g":1.24,"i":0.90,"j":1.27},
{"h":274,"e":1.065,"a":0.85,"b":1.58,"c":0.84,"d":1.56,"f":0.85,"g":1.19,"i":0.95,"j":1.20},
{"h":275,"e":1.066,"a":0.91,"b":1.69,"c":0.90,"d":1.65,"f":0.83,"g":1.22,"i":0.93,"j":1.25},
{"h":276,"e":1.067,"a":0.88,"b":1.54,"c":0.87,"d":1.52,"f":0.87,"g":1.26,"i":0.91,"j":1.22},
{"h":277,"e":1.069,"a":0.94,"b":1.78,"c":0.93,"d":1.72,"f":0.84,"g":1.18,"i":0.89,"j":1.29},
{"h":278,"e":1.070,"a":0.86,"b":1.64,"c":0.85,"d":1.61,"f":0.86,"g":1.21,"i":0.94,"j":1.21},
{"h":279,"e":1.071,"a":0.92,"b":1.59,"c":0.91,"d":1.95,"f":0.88,"g":1.24,"i":0.92,"j":1.26},
{"h":280,"e":1.072,"a":0.89,"b":1.73,"c":0.88,"d":1.68,"f":0.85,"g":1.20,"i":0.90,"j":1.23},
{"h":281,"e":1.074,"a":0.95,"b":1.62,"c":0.94,"d":1.60,"f":0.83,"g":1.25,"i":0.95,"j":1.28},
{"h":282,"e":1.075,"a":0.87,"b":1.81,"c":0.86,"d":1.76,"f":0.87,"g":1.19,"i":0.93,"j":1.22},
{"h":283,"e":1.077,"a":0.93,"b":1.57,"c":1.03,"d":1.59,"f":0.84,"g":1.05,"i":0.90,"j":1.05,"tc":1,"tp":1,"ts":1},
{"h":284,"e":1.079,"a":1.09,"b":2.48,"c":0.90,"d":1.70,"f":0.86,"g":1.23,"i":0.91,"j":1.27,"tn":1},
{"h":285,"e":1.081,"a":0.94,"b":1.66,"c":0.93,"d":1.63,"f":0.88,"g":1.20,"i":0.94,"j":1.24},
{"h":286,"e":1.083,"a":0.88,"b":1.59,"c":0.87,"d":1.57,"f":0.85,"g":1.25,"i":0.92,"j":1.29},
{"h":287,"e":1.085,"a":0.95,"b":1.74,"c":0.94,"d":1.70,"f":0.83,"g":1.19,"i":0.95,"j":1.23},
{"h":288,"e":1.087,"a":0.91,"b":2.10,"c":0.90,"d":2.12,"f":0.87,"g":1.22,"i":0.93,"j":1.27},
{"h":289,"e":1.089,"a":0.89,"b":1.63,"c":0.88,"d":1.61,"f":0.84,"g":1.26,"i":0.91,"j":1.25},
{"h":290,"e":1.091,"a":0.96,"b":1.79,"c":0.95,"d":1.74,"f":0.86,"g":1.21,"i":0.96,"j":1.30},
{"h":291,"e":1.093,"a":0.92,"b":1.57,"c":0.91,"d":1.55,"f":0.88,"g":1.18,"i":0.94,"j":1.24},
{"h":292,"e":1.095,"a":0.90,"b":1.68,"c":0.89,"d":1.66,"f":0.85,"g":1.24,"i":0.92,"j":1.28},
{"h":293,"e":1.097,"a":0.97,"b":1.84,"c":0.96,"d":1.79,"f":0.83,"g":1.20,"i":0.95,"j":1.26},
{"h":294,"e":1.100,"a":0.93,"b":1.62,"c":0.92,"d":1.60,"f":0.87,"g":1.25,"i":0.93,"j":1.31},
{"h":295,"e":1.105,"a":0.91,"b":1.70,"c":0.90,"d":1.67,"f":0.84,"g":1.22,"i":0.96,"j":1.25},
{"h":296,"e":1.110,"a":0.97,"b":1.89,"c":0.96,"d":1.58,"f":0.86,"g":1.19,"i":0.94,"j":1.29},
{"h":297,"e":1.115,"a":0.94,"b":1.65,"c":0.93,"d":1.63,"f":0.88,"g":1.24,"i":0.92,"j":1.27},
{"h":298,"e":1.120,"a":0.92,"b":1.99,"c":0.91,"d":1.78,"f":0.85,"g":1.21,"i":0.97,"j":1.31},
{"h":299,"e":1.125,"a":0.98,"b":2.00,"c":0.97,"d":1.95,"f":0.83,"g":1.26,"i":0.95,"j":1.28},
{"h":300,"e":1.130,"a":0.95,"b":1.72,"c":0.94,"d":1.94,"f":0.87,"g":1.20,"i":0.93,"j":1.30},
{"h":301,"e":1.135,"a":0.93,"b":1.68,"c":0.92,"d":1.66,"f":0.84,"g":1.23,"i":0.96,"j":1.27},
{"h":302,"e":1.140,"a":0.99,"b":1.80,"c":0.98,"d":1.76,"f":0.86,"g":1.25,"i":0.94,"j":1.32},
{"h":303,"e":1.142,"a":0.96,"b":1.64,"c":0.95,"d":1.62,"f":0.88,"g":1.21,"i":0.97,"j":1.29},
{"h":304,"e":1.145,"a":0.94,"b":1.75,"c":0.93,"d":1.72,"f":0.85,"g":1.24,"i":0.95,"j":1.31},
{"h":305,"e":1.150,"a":1.00,"b":1.93,"c":0.99,"d":1.88,"f":0.83,"g":1.19,"i":0.93,"j":1.28},
{"h":306,"e":1.155,"a":0.97,"b":1.70,"c":0.96,"d":1.68,"f":0.87,"g":1.22,"i":0.98,"j":1.33},
{"h":307,"e":1.160,"a":0.95,"b":1.85,"c":0.94,"d":1.80,"f":0.84,"g":1.25,"i":0.96,"j":1.30},
{"h":308,"e":1.165,"a":0.98,"b":2.56,"c":0.97,"d":2.57,"f":0.86,"g":1.20,"i":0.94,"j":1.32},
{"h":309,"e":1.170,"a":1.00,"b":1.80,"c":0.99,"d":1.72,"f":0.88,"g":1.23,"i":0.97,"j":1.29},
{"h":310,"e":1.175,"a":0.96,"b":1.98,"c":0.95,"d":1.98,"f":0.85,"g":1.21,"i":0.95,"j":1.34},
{"h":311,"e":1.180,"a":0.99,"b":1.75,"c":0.98,"d":1.72,"f":0.93,"g":1.15,"i":0.96,"j":1.30,"tp":1},
{"h":312,"e":1.190,"a":1.01,"b":3.49,"c":1.00,"d":3.35,"f":0.94,"g":1.16,"i":0.94,"j":1.16,"tp":1,"ts":1},
{"h":313,"e":1.210,"a":0.98,"b":1.99,"c":0.97,"d":1.98,"f":0.84,"g":1.25,"i":0.98,"j":1.32},
{"h":314,"e":1.260,"a":1.02,"b":2.00,"c":1.01,"d":2.00,"f":0.84,"g":1.28,"i":1.00,"j":1.43}
]},
"concat":[
{"title":"Naive bootstrap (Percentile)","width":361,"height":224,"data":{"name":"d"},
 "layer":[
 {"mark":{"type":"rule","strokeWidth":0.9,"color":"#F8766D"},
  "encoding":{
   "x":{"field":"h","type":"quantitative","title":"Hospital","scale":{"domain":[-13.8,328.7],"nice":false,"zero":false},
        "axis":{"values":[0,50,100,150,200,250,300],"labels":false,"ticks":false,"domain":false,"gridWidth":{"condition":{"test":"datum.value % 100 === 0","value":1},"value":0.6}}},
   "y":{"field":"a","type":"quantitative","title":"Predicted−to−expected ratio","scale":{"domain":[-0.175,3.675],"nice":false,"zero":false},
        "axis":{"values":[0,0.5,1,1.5,2,2.5,3,3.5],"labelExpr":"datum.value % 1 === 0 ? '' + datum.value : ''","domain":false,"tickOpacity":{"condition":{"test":"datum.value % 1 === 0","value":1},"value":0},"gridWidth":{"condition":{"test":"datum.value % 1 === 0","value":1},"value":0.6}}},
   "y2":{"field":"b"}}},
 {"transform":[{"filter":"datum.tn == 1"}],
  "mark":{"type":"rule","strokeWidth":0.9,"color":"#00BFC4"},
  "encoding":{"x":{"field":"h","type":"quantitative","title":"Hospital"},"y":{"field":"a","type":"quantitative","title":"Predicted−to−expected ratio"},"y2":{"field":"b"}}},
 {"mark":{"type":"point","filled":true,"size":45,"opacity":1},
  "encoding":{"x":{"field":"h","type":"quantitative","title":"Hospital"},"y":{"field":"e","type":"quantitative","title":"Predicted−to−expected ratio"},
   "color":{"condition":{"test":"datum.tn == 1","value":"#00BFC4"},"value":"#F8766D"}}},
 {"transform":[{"filter":"datum.tn == 1 && datum.h < 200"}],
  "mark":{"type":"point","filled":true,"size":45,"opacity":1,"color":"#00BFC4"},
  "encoding":{"x":{"field":"h","type":"quantitative","title":"Hospital"},"y":{"field":"e","type":"quantitative","title":"Predicted−to−expected ratio"}}}
 ]},
{"title":"Cluster bootstrap (Percentile)","width":361,"height":224,"data":{"name":"d"},
 "layer":[
 {"mark":{"type":"rule","strokeWidth":0.9,"color":"#F8766D"},
  "encoding":{
   "x":{"field":"h","type":"quantitative","title":"Hospital","scale":{"domain":[-13.8,328.7],"nice":false,"zero":false},
        "axis":{"values":[0,50,100,150,200,250,300],"labels":false,"ticks":false,"domain":false,"gridWidth":{"condition":{"test":"datum.value % 100 === 0","value":1},"value":0.6}}},
   "y":{"field":"c","type":"quantitative","title":"Predicted−to−expected ratio","scale":{"domain":[-0.175,3.675],"nice":false,"zero":false},
        "axis":{"values":[0,0.5,1,1.5,2,2.5,3,3.5],"labelExpr":"datum.value % 1 === 0 ? '' + datum.value : ''","domain":false,"tickOpacity":{"condition":{"test":"datum.value % 1 === 0","value":1},"value":0},"gridWidth":{"condition":{"test":"datum.value % 1 === 0","value":1},"value":0.6}}},
   "y2":{"field":"d"}}},
 {"transform":[{"filter":"datum.tc == 1"}],
  "mark":{"type":"rule","strokeWidth":0.9,"color":"#00BFC4"},
  "encoding":{"x":{"field":"h","type":"quantitative","title":"Hospital"},"y":{"field":"c","type":"quantitative","title":"Predicted−to−expected ratio"},"y2":{"field":"d"}}},
 {"mark":{"type":"point","filled":true,"size":45,"opacity":1},
  "encoding":{"x":{"field":"h","type":"quantitative","title":"Hospital"},"y":{"field":"e","type":"quantitative","title":"Predicted−to−expected ratio"},
   "color":{"condition":{"test":"datum.tc == 1","value":"#00BFC4"},"value":"#F8766D"}}},
 {"transform":[{"filter":"datum.tc == 1 && datum.h < 200"}],
  "mark":{"type":"point","filled":true,"size":45,"opacity":1,"color":"#00BFC4"},
  "encoding":{"x":{"field":"h","type":"quantitative","title":"Hospital"},"y":{"field":"e","type":"quantitative","title":"Predicted−to−expected ratio"}}}
 ]},
{"title":"Parametric bootstrap (Percentile)","width":361,"height":224,"data":{"name":"d"},
 "layer":[
 {"mark":{"type":"rule","strokeWidth":0.9,"color":"#F8766D"},
  "encoding":{
   "x":{"field":"h","type":"quantitative","title":"Hospital","scale":{"domain":[-13.8,328.7],"nice":false,"zero":false},
        "axis":{"values":[0,50,100,150,200,250,300],"labels":false,"ticks":false,"domain":false,"gridWidth":{"condition":{"test":"datum.value % 100 === 0","value":1},"value":0.6}}},
   "y":{"field":"f","type":"quantitative","title":"Predicted−to−expected ratio","scale":{"domain":[-0.175,3.675],"nice":false,"zero":false},
        "axis":{"values":[0,0.5,1,1.5,2,2.5,3,3.5],"labelExpr":"datum.value % 1 === 0 ? '' + datum.value : ''","domain":false,"tickOpacity":{"condition":{"test":"datum.value % 1 === 0","value":1},"value":0},"gridWidth":{"condition":{"test":"datum.value % 1 === 0","value":1},"value":0.6}}},
   "y2":{"field":"g"}}},
 {"transform":[{"filter":"datum.tp == 1"}],
  "mark":{"type":"rule","strokeWidth":0.9,"color":"#00BFC4"},
  "encoding":{"x":{"field":"h","type":"quantitative","title":"Hospital"},"y":{"field":"f","type":"quantitative","title":"Predicted−to−expected ratio"},"y2":{"field":"g"}}},
 {"mark":{"type":"point","filled":true,"size":45,"opacity":1},
  "encoding":{"x":{"field":"h","type":"quantitative","title":"Hospital"},"y":{"field":"e","type":"quantitative","title":"Predicted−to−expected ratio"},
   "color":{"condition":{"test":"datum.tp == 1","value":"#00BFC4"},"value":"#F8766D"}}},
 {"transform":[{"filter":"datum.tp == 1 && datum.h != 283"}],
  "mark":{"type":"point","filled":true,"size":45,"opacity":1,"color":"#00BFC4"},
  "encoding":{"x":{"field":"h","type":"quantitative","title":"Hospital"},"y":{"field":"e","type":"quantitative","title":"Predicted−to−expected ratio"}}}
 ]},
{"title":"Cluster−specific parametric bootstrap (Percentile)","width":361,"height":224,"data":{"name":"d"},
 "layer":[
 {"mark":{"type":"rule","strokeWidth":0.9,"color":"#F8766D"},
  "encoding":{
   "x":{"field":"h","type":"quantitative","title":"Hospital","scale":{"domain":[-13.8,328.7],"nice":false,"zero":false},
        "axis":{"values":[0,50,100,150,200,250,300],"labels":false,"ticks":false,"domain":false,"gridWidth":{"condition":{"test":"datum.value % 100 === 0","value":1},"value":0.6}}},
   "y":{"field":"i","type":"quantitative","title":"Predicted−to−expected ratio","scale":{"domain":[-0.175,3.675],"nice":false,"zero":false},
        "axis":{"values":[0,0.5,1,1.5,2,2.5,3,3.5],"labelExpr":"datum.value % 1 === 0 ? '' + datum.value : ''","domain":false,"tickOpacity":{"condition":{"test":"datum.value % 1 === 0","value":1},"value":0},"gridWidth":{"condition":{"test":"datum.value % 1 === 0","value":1},"value":0.6}}},
   "y2":{"field":"j"}}},
 {"transform":[{"filter":"datum.ts == 1"}],
  "mark":{"type":"rule","strokeWidth":0.9,"color":"#00BFC4"},
  "encoding":{"x":{"field":"h","type":"quantitative","title":"Hospital"},"y":{"field":"i","type":"quantitative","title":"Predicted−to−expected ratio"},"y2":{"field":"j"}}},
 {"mark":{"type":"point","filled":true,"size":45,"opacity":1},
  "encoding":{"x":{"field":"h","type":"quantitative","title":"Hospital"},"y":{"field":"e","type":"quantitative","title":"Predicted−to−expected ratio"},
   "color":{"condition":{"test":"datum.ts == 1","value":"#00BFC4"},"value":"#F8766D"}}},
 {"transform":[{"filter":"datum.ts == 1 && datum.h != 283"}],
  "mark":{"type":"point","filled":true,"size":45,"opacity":1,"color":"#00BFC4"},
  "encoding":{"x":{"field":"h","type":"quantitative","title":"Hospital"},"y":{"field":"e","type":"quantitative","title":"Predicted−to−expected ratio"}}}
 ]}
],
"config":{
 "font":"Liberation Sans",
 "view":{"stroke":"#B3B3B3","strokeWidth":1},
 "title":{"fontSize":12.3,"fontWeight":"normal","color":"#000000","anchor":"middle","offset":5,"font":"Liberation Sans"},
 "axis":{"gridColor":"#DEDEDE","labelColor":"#4D4D4D","labelFontSize":8.5,"labelFont":"Liberation Sans","titleFont":"Liberation Sans","titleFontSize":10.5,"titleFontWeight":"normal","titleColor":"#000000","tickColor":"#B3B3B3","tickSize":3,"labelPadding":1},
 "axisX":{"titlePadding":2},
 "axisY":{"titlePadding":2}
}
}
